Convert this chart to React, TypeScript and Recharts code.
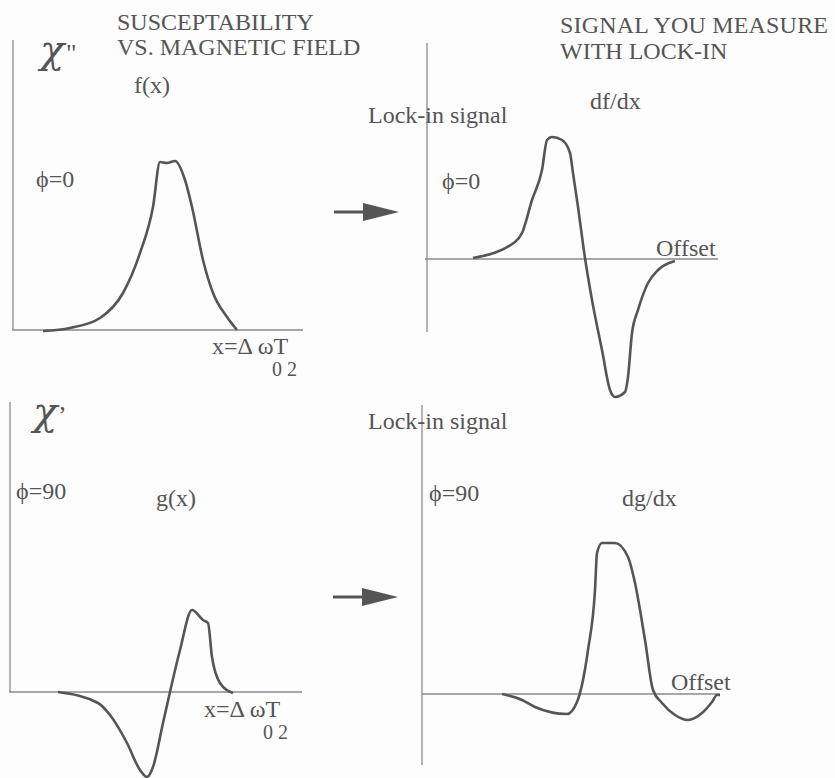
import { LineChart, Line, XAxis, YAxis, ReferenceLine } from "recharts";

// curve samples, x and y in axis units (origin = where the two axes meet)
const absorption = [
  { x: 3.0, y: -0.1 }, { x: 5.7, y: 0.2 }, { x: 8.7, y: 1.2 }, { x: 11.0, y: 3.7 },
  { x: 12.7, y: 7.7 }, { x: 14.0, y: 12.3 }, { x: 14.7, y: 16.8 }, { x: 15.4, y: 16.7 },
  { x: 16.2, y: 16.9 }, { x: 17.2, y: 15.0 }, { x: 17.9, y: 12.3 }, { x: 19.0, y: 7.0 },
  { x: 20.0, y: 3.7 }, { x: 21.4, y: 1.3 }, { x: 22.4, y: 0.0 },
];

const absorptionDeriv = [
  { x: 4.6, y: 0.1 }, { x: 8.8, y: 1.7 }, { x: 9.5, y: 2.6 }, { x: 10.5, y: 5.9 },
  { x: 11.5, y: 8.9 }, { x: 12.0, y: 11.9 }, { x: 12.5, y: 12.2 }, { x: 13.5, y: 11.9 },
  { x: 14.3, y: 10.6 }, { x: 14.6, y: 8.6 }, { x: 15.1, y: 5.2 }, { x: 15.8, y: 0.1 },
  { x: 16.5, y: -4.1 }, { x: 17.5, y: -9.1 }, { x: 18.3, y: -13.1 }, { x: 18.8, y: -13.8 },
  { x: 19.8, y: -13.3 }, { x: 20.1, y: -11.8 }, { x: 20.5, y: -7.4 }, { x: 21.1, y: -5.1 },
  { x: 22.1, y: -2.4 }, { x: 23.1, y: -1.1 }, { x: 24.8, y: -0.2 },
];

const dispersion = [
  { x: 4.8, y: 0.0 }, { x: 8.8, y: -1.1 }, { x: 10.0, y: -2.3 }, { x: 11.7, y: -5.1 },
  { x: 13.0, y: -7.8 }, { x: 13.7, y: -8.5 }, { x: 14.3, y: -7.5 }, { x: 15.3, y: -3.1 },
  { x: 16.0, y: 0.0 }, { x: 17.0, y: 4.2 }, { x: 18.2, y: 8.2 }, { x: 19.3, y: 7.2 },
  { x: 19.8, y: 6.9 }, { x: 20.2, y: 3.5 }, { x: 21.0, y: 0.9 }, { x: 22.3, y: -0.1 },
];

const dispersionDeriv = [
  { x: 8.0, y: 0.0 }, { x: 10.0, y: -0.6 }, { x: 11.3, y: -1.3 }, { x: 14.5, y: -2.0 },
  { x: 15.5, y: -0.8 }, { x: 16.6, y: 4.4 }, { x: 17.3, y: 10.4 }, { x: 17.5, y: 14.1 },
  { x: 18.0, y: 15.1 }, { x: 19.3, y: 15.1 }, { x: 20.6, y: 13.7 }, { x: 21.3, y: 11.1 },
  { x: 22.3, y: 5.4 }, { x: 23.1, y: 0.4 }, { x: 24.0, y: -0.9 }, { x: 25.3, y: -2.1 },
  { x: 26.6, y: -2.6 }, { x: 28.0, y: -1.9 }, { x: 29.0, y: -0.8 }, { x: 29.5, y: -0.1 },
  { x: 29.8, y: -0.1 },
];

// axis extents: [x start, x end] for the horizontal, [y bottom, y top] for the vertical
const axisExtents = [
  { h: [-0.1, 29.0], v: [0, 29.0] },
  { h: [-0.2, 29.1], v: [-7.3, 21.6] },
  { h: [-0.1, 29.2], v: [0, 29.0] },
  { h: [0, 29.8], v: [-7.1, 28.9] },
];

const INK = "#555";
const AXIS = "#8a8a8a";
const SERIF = "'Liberation Serif', 'Times New Roman', serif";

const X_DOMAIN = [-2, 31];
const Y_DOMAIN = [-16, 30];
const UNIT = 10; // px per axis unit

type Pt = { x: number; y: number };

function Panel({ ox, oy, data, ext }: { ox: number; oy: number; data: Pt[]; ext: { h: number[]; v: number[] } }) {
  const width = (X_DOMAIN[1] - X_DOMAIN[0]) * UNIT;
  const height = (Y_DOMAIN[1] - Y_DOMAIN[0]) * UNIT;
  return (
    <div style={{ position: "absolute", left: ox + X_DOMAIN[0] * UNIT, top: oy - Y_DOMAIN[1] * UNIT }}>
      <LineChart width={width} height={height} data={data} margin={{ top: 0, right: 0, bottom: 0, left: 0 }}>
        <XAxis type="number" dataKey="x" hide domain={X_DOMAIN} allowDataOverflow />
        <YAxis type="number" hide domain={Y_DOMAIN} allowDataOverflow />
        <ReferenceLine segment={[{ x: ext.h[0], y: 0 }, { x: ext.h[1], y: 0 }]} stroke={AXIS} strokeWidth={1.3} />
        <ReferenceLine segment={[{ x: 0, y: ext.v[0] }, { x: 0, y: ext.v[1] }]} stroke={AXIS} strokeWidth={1.3} />
        <Line
          type="monotone"
          dataKey="y"
          stroke={INK}
          strokeWidth={2.6}
          dot={false}
          isAnimationActive={false}
        />
      </LineChart>
    </div>
  );
}

function Arrow({ x, y }: { x: number; y: number }) {
  return (
    <g>
      <line x1={x} y1={y} x2={x + 32} y2={y} stroke={INK} strokeWidth={3} />
      <polygon points={`${x + 29},${y - 9} ${x + 65},${y} ${x + 29},${y + 9}`} fill={INK} />
    </g>
  );
}

export default function App() {
  const t = { fontFamily: SERIF, fill: INK } as const;
  return (
    <div style={{ position: "absolute", left: 0, top: 0, width: 835, height: 778, overflow: "hidden", background: "#fdfdfd" }}>
      <Panel ox={13} oy={330} data={absorption} ext={axisExtents[0]} />
      <Panel ox={427} oy={259} data={absorptionDeriv} ext={axisExtents[1]} />
      <Panel ox={10} oy={692} data={dispersion} ext={axisExtents[2]} />
      <Panel ox={422} oy={694} data={dispersionDeriv} ext={axisExtents[3]} />
      <svg width={835} height={778} style={{ position: "absolute", left: 0, top: 0, pointerEvents: "none" }}>
        <g {...t} fontSize={24}>
          <text x={117} y={30}>SUSCEPTABILITY</text>
          <text x={117} y={55}>VS. MAGNETIC FIELD</text>
          <text x={560} y={33} textLength={268}>SIGNAL YOU MEASURE</text>
          <text x={560} y={59}>WITH LOCK-IN</text>
        </g>
        <g {...t} fontSize={40} fontStyle="italic" fontFamily="'DejaVu Serif', serif">
          <text x={40} y={63}>χ</text>
          <text x={33} y={425}>χ</text>
        </g>
        <g {...t} fontSize={26}>
          <text x={66} y={62}>"</text>
          <text x={58} y={424}>’</text>
        </g>
        <g {...t} fontSize={24}>
          <text x={134} y={93}>f(x)</text>
          <text x={36} y={187}>ϕ=0</text>
          <text x={212} y={354}>x=Δ ωT</text>
          <text x={272} y={376} fontSize={20}>0 2</text>
          <text x={368} y={123}>Lock-in signal</text>
          <text x={590} y={109}>df/dx</text>
          <text x={442} y={189}>ϕ=0</text>
          <text x={656} y={256}>Offset</text>
          <text x={16} y={499}>ϕ=90</text>
          <text x={156} y={506}>g(x)</text>
          <text x={204} y={717}>x=Δ ωT</text>
          <text x={263} y={739} fontSize={20}>0 2</text>
          <text x={368} y={429}>Lock-in signal</text>
          <text x={429} y={501}>ϕ=90</text>
          <text x={622} y={506}>dg/dx</text>
          <text x={671} y={690}>Offset</text>
        </g>
        <Arrow x={334} y={212} />
        <Arrow x={333} y={597} />
      </svg>
    </div>
  );
}
